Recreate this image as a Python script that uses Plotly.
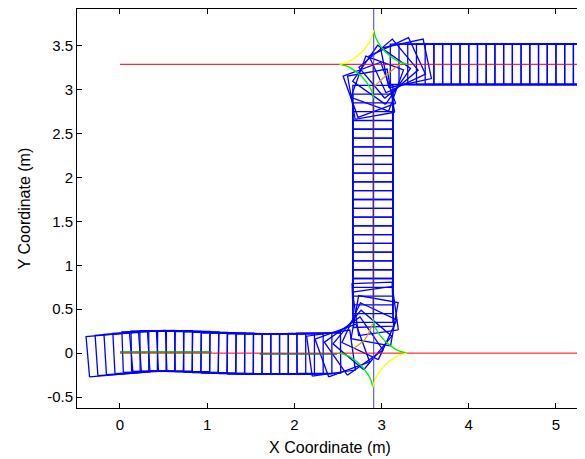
import numpy as np
import plotly.graph_objects as go

# ---------------- data ----------------
BOX_LEN = 0.5   # footprint length (m)
BOX_WID = 0.46  # footprint width (m)

# bottom straight section: footprint centres and headings (deg)
bottom_cx = [-0.12, -0.02, 0.08, 0.18, 0.28, 0.38, 0.48, 0.58, 0.68, 0.78, 0.88, 0.98, 1.08,
             1.18, 1.28, 1.38, 1.48, 1.58, 1.68, 1.78, 1.88, 1.98, 2.08, 2.18, 2.28]
bottom_cy = [-0.02, -0.01, 0.0, 0.01, 0.02, 0.025, 0.025, 0.025, 0.02, 0.02, 0.015, 0.01, 0.005,
             0.0, 0.0, -0.005, -0.01, -0.01, -0.01, -0.01, -0.01, -0.01, -0.01, -0.005, 0.0]
bottom_th = [5, 4, 3.5, 3, 2, 1, 0.5, 0, -0.5, -0.5, -1, -1, -1,
             -0.5, -0.5, -0.5, 0, 0, 0, 0, 0, 0, 0, 0, 0.5]

# first corner (left turn)
corner1_cx = [2.42, 2.55, 2.68, 2.78, 2.86, 2.92, 2.93, 2.90]
corner1_cy = [0.00, 0.03, 0.08, 0.15, 0.25, 0.37, 0.48, 0.55]
corner1_th = [8, 20, 35, 50, 65, 80, 98, 92]

# vertical straight section
vert_cx = [2.90] * 23
vert_cy = [0.6, 0.7, 0.8, 0.9, 1.0, 1.1, 1.2, 1.3, 1.4, 1.5, 1.6, 1.7, 1.8, 1.9, 2.0,
           2.1, 2.2, 2.3, 2.4, 2.5, 2.6, 2.7, 2.8]
vert_th = [90] * 23

# second corner (right turn)
corner2_cx = [2.88, 2.86, 2.95, 3.00, 3.08, 3.18, 3.28]
corner2_cy = [2.95, 3.00, 3.07, 3.17, 3.24, 3.28, 3.30]
corner2_th = [100, 110, 70, 55, 40, 25, 12]

# top straight section
top_cx = [3.35, 3.45, 3.55, 3.65, 3.75, 3.85, 3.95, 4.05, 4.15, 4.25, 4.35, 4.45, 4.55,
          4.65, 4.75, 4.85, 4.95, 5.05, 5.15, 5.25, 5.35, 5.45, 5.55]
top_cy = [3.29] * 23
top_th = [0] * 23

# reference lines
ref_bottom_x = [0.0, 5.6]
ref_bottom_y = [0.0, 0.0]
ref_top_x = [0.0, 5.6]
ref_top_y = [3.29, 3.29]
vline_x = [2.91, 2.91]
vline_y = [-0.7, 4.0]
purple_x = [2.905, 2.905]
purple_y = [0.40, 3.27]

# actual trajectory fragments
green_x = [0.0, 1.05]
green_y = [0.012, 0.012]
dkgreen_x = [1.6, 2.49]
dkgreen_y = [-0.01, -0.01]

# corner arcs: unit quadrant of the cusp curve
arc_u = [1.0, 0.79, 0.65, 0.354, 0.125, 0.056, 0.0]
arc_v = [0.0, 0.056, 0.125, 0.354, 0.65, 0.79, 1.0]
ARC_R = 0.39
c1 = (2.90, 0.0)
c2 = (2.91, 3.29)
orange1_x = [2.67, 2.81, 2.90]
orange1_y = [0.05, 0.16, 0.34]
orange2_x = [3.21, 3.07, 2.92]
orange2_y = [3.29, 3.18, 3.04]

x_ticks = [0, 1, 2, 3, 4, 5]
y_ticks = [-0.5, 0, 0.5, 1, 1.5, 2, 2.5, 3, 3.5]
y_tick_text = ["-0.5", "0", "0.5", "1", "1.5", "2", "2.5", "3", "3.5"]


# ---------------- helpers ----------------
def boxes(cx, cy, th):
    xs, ys = [], []
    hl, hw = BOX_LEN / 2, BOX_WID / 2
    pts = [(-hl, -hw), (hl, -hw), (hl, hw), (-hl, hw), (-hl, -hw)]
    for x, y, t in zip(cx, cy, th):
        a = np.deg2rad(t)
        c, s = np.cos(a), np.sin(a)
        for px, py in pts:
            xs.append(x + px * c - py * s)
            ys.append(y + px * s + py * c)
        xs.append(None)
        ys.append(None)
    return xs, ys


def quad(center, sx, sy):
    return ([center[0] + sx * ARC_R * u for u in arc_u],
            [center[1] + sy * ARC_R * v for v in arc_v])


fig = go.Figure()

bx, by = [], []
for cx, cy, th in [(bottom_cx, bottom_cy, bottom_th), (corner1_cx, corner1_cy, corner1_th),
                   (vert_cx, vert_cy, vert_th), (corner2_cx, corner2_cy, corner2_th),
                   (top_cx, top_cy, top_th)]:
    x, y = boxes(cx, cy, th)
    bx += x
    by += y

fig.add_trace(go.Scatter(x=bx, y=by, mode="lines", line=dict(color="#0000ff", width=1.3),
                         hoverinfo="skip", showlegend=False))


def line(x, y, color, width=1.0, shape="linear"):
    fig.add_trace(go.Scatter(x=x, y=y, mode="lines", line=dict(color=color, width=width, shape=shape),
                             hoverinfo="skip", showlegend=False))


line(vline_x, vline_y, "#3c3cff", 1.0)
line(ref_bottom_x, ref_bottom_y, "#ff0000", 1.0)
line(ref_top_x, ref_top_y, "#ee0000", 1.0)
line(purple_x, purple_y, "#4a2a8c", 1.5)
line(green_x, green_y, "#009a00", 1.5)
line(dkgreen_x, dkgreen_y, "#2f6f3f", 1.5)

# first corner arcs
for sx, sy, col in [(1, 1, "#00ee00"), (-1, -1, "#00ee00"), (1, -1, "#ffff00")]:
    x, y = quad(c1, sx, sy)
    line(x, y, col, 1.3, "spline")
line(orange1_x, orange1_y, "#e0a000", 1.3, "spline")
# second corner arcs
for sx, sy, col in [(1, 1, "#00ee00"), (-1, -1, "#00ee00"), (-1, 1, "#ffff00")]:
    x, y = quad(c2, sx, sy)
    line(x, y, col, 1.3, "spline")
line(orange2_x, orange2_y, "#e0a000", 1.3, "spline")

tick_font = dict(family="Liberation Sans, Arial, sans-serif", size=15, color="black")
title_font = dict(family="Liberation Sans, Arial, sans-serif", size=16, color="black")
axis_common = dict(showgrid=False, zeroline=False, showline=True, linecolor="black", linewidth=1,
                   mirror="ticks", ticks="inside", ticklen=5, tickcolor="black", tickfont=tick_font,
                   automargin=False)

# the page body adds an 8 px offset, so margins compensate for it
fig.update_layout(
    width=585, height=459,
    margin=dict(l=69, r=10, t=1, b=59),
    paper_bgcolor="white", plot_bgcolor="white",
    font=tick_font,
    xaxis=dict(range=[-0.493, 5.31], tickvals=x_ticks, ticktext=[str(v) for v in x_ticks],
               ticklabelstandoff=3,
               title=dict(text="X Coordinate (m)", font=title_font, standoff=9), **axis_common),
    yaxis=dict(range=[-0.625, 3.92], tickvals=y_ticks, ticktext=y_tick_text,
               ticklabelstandoff=0,
               title=dict(text="Y Coordinate (m)", font=title_font, standoff=12), **axis_common),
)

fig.write_html("out.html")
